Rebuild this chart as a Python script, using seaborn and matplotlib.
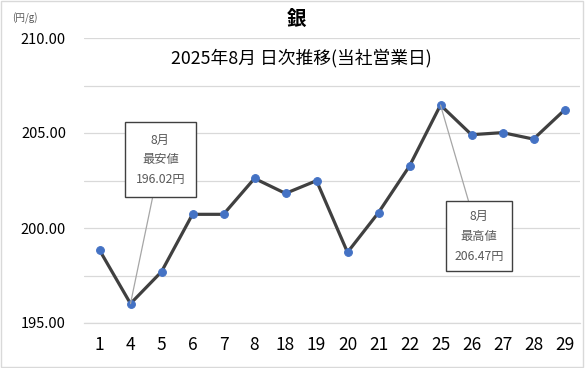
import matplotlib
matplotlib.use("Agg")
import matplotlib.pyplot as plt
import seaborn as sns
import pandas as pd
from matplotlib.patches import Rectangle

days = ["1", "4", "5", "6", "7", "8", "18", "19", "20", "21", "22", "25", "26", "27", "28", "29"]
prices = [198.84, 196.02, 197.70, 200.72, 200.72, 202.61, 201.82, 202.49, 198.72,
          200.81, 203.26, 206.47, 204.91, 205.02, 204.68, 206.21]
title = "銀"
subtitle = "2025年8月 日次推移(当社営業日)"
unit_label = "(円/g)"
yticks = [195.0, 200.0, 205.0, 210.0]
ygrid = [195.0, 197.5, 200.0, 202.5, 205.0, 207.5, 210.0]

sns.set_theme(style="white")
plt.rcParams["font.family"] = ["Noto Sans CJK JP", "DejaVu Sans"]

df = pd.DataFrame({"day": days, "price": prices})

fig = plt.figure(figsize=(5.85, 3.68), dpi=100)
ax = fig.add_axes([84 / 585, 1 - 323 / 368, 496 / 585, 285 / 368])

for g in ygrid:
    ax.axhline(g, color="#d9d9d9", lw=0.9, zorder=0)

sns.lineplot(data=df, x="day", y="price", sort=False, ax=ax, color="#404040",
             lw=2.3, marker="o", markersize=5.6, markerfacecolor="#4472C4",
             markeredgecolor="#4472C4", zorder=3)

ax.set_xlim(-0.5, len(days) - 0.5)
ax.set_ylim(195, 210)
ax.set_yticks(yticks)
ax.set_yticklabels([f"{v:.2f}" for v in yticks], fontsize=10.5, color="#000000")
ax.set_xlabel("")
ax.set_ylabel("")
for s in ["top", "right", "left"]:
    ax.spines[s].set_visible(False)
ax.spines["bottom"].set_color("#d9d9d9")
ax.spines["bottom"].set_linewidth(0.9)
ax.tick_params(axis="y", length=0, pad=13)
ax.tick_params(axis="x", length=0, pad=9, labelsize=12.5, labelcolor="#000000")
# category boundary tick marks
ax.set_xticks([i - 0.5 for i in range(len(days) + 1)], minor=True)
ax.tick_params(axis="x", which="minor", length=5, color="#d9d9d9", width=0.9, direction="out")

# annotations
imin = prices.index(min(prices))
imax = prices.index(max(prices))
box = dict(boxstyle="square,pad=0.9", fc="white", ec="#404040", lw=1.0)
ax.annotate(f"8月\n最安値\n{prices[imin]:.2f}円", xy=(imin, prices[imin]),
            xytext=(0.154, 0.572), textcoords="axes fraction", ha="center", va="center",
            fontsize=8.8, color="#595959", linespacing=1.7, bbox=box,
            arrowprops=dict(arrowstyle="-", color="#a6a6a6", lw=0.9, shrinkA=0, shrinkB=0),
            zorder=5)
box2 = dict(boxstyle="square,pad=0.7", fc="white", ec="#404040", lw=1.0)
ax.annotate(f"8月\n最高値\n{prices[imax]:.2f}円", xy=(imax, prices[imax]),
            xytext=(0.796, 0.304), textcoords="axes fraction", ha="center", va="center",
            fontsize=8.8, color="#595959", linespacing=1.7, bbox=box2,
            arrowprops=dict(arrowstyle="-", color="#a6a6a6", lw=0.9, shrinkA=0, shrinkB=0),
            zorder=5)

fig.text(297 / 585, 1 - 19 / 368, title, ha="center", va="center", fontsize=14,
         fontweight="bold", color="#000000")
fig.text(301 / 585, 1 - 58 / 368, subtitle, ha="center", va="center", fontsize=12.8,
         color="#000000")
fig.text(25 / 585, 1 - 18 / 368, unit_label, ha="center", va="center", fontsize=7,
         color="#595959")

fig.patches.append(Rectangle((0.002, 0.003), 0.995, 0.993, transform=fig.transFigure,
                             fill=False, ec="#d9d9d9", lw=1.0))

fig.savefig("out.png", dpi=100)
